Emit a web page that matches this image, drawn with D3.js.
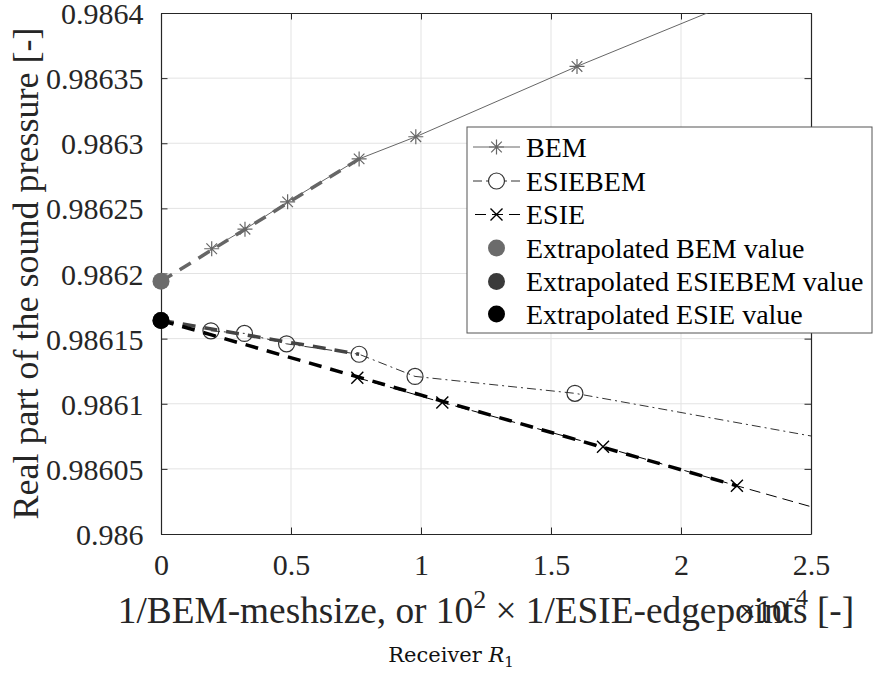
<!DOCTYPE html>
<html>
<head>
<meta charset="utf-8">
<script src="https://cdn.jsdelivr.net/npm/d3@7"></script>
<style>
  html, body { margin: 0; padding: 0; background: #fff; }
  svg { display: block; }
</style>
</head>
<body>
<svg id="chart" width="878" height="674"></svg>
<script>
// ---------------- data ----------------
const xTicks = [0, 0.5, 1, 1.5, 2, 2.5];
const xTickLabels = ["0", "0.5", "1", "1.5", "2", "2.5"];
const yTicks = [0.986, 0.98605, 0.9861, 0.98615, 0.9862, 0.98625, 0.9863, 0.98635, 0.9864];
const yTickLabels = ["0.986", "0.98605", "0.9861", "0.98615", "0.9862", "0.98625", "0.9863", "0.98635", "0.9864"];

const bemX = [0.195, 0.323, 0.487, 0.762, 0.98, 1.6, 3.2];
const bemY = [0.986219, 0.986234, 0.986255, 0.986288, 0.986305, 0.986359, 0.98649];

const esiebemX = [0.192, 0.321, 0.483, 0.762, 0.977, 1.592, 3.2];
const esiebemY = [0.986156, 0.986154, 0.986146, 0.986138, 0.986121, 0.986108, 0.986050];

const esieX = [0.755, 1.082, 1.70, 2.215, 3.3];
const esieY = [0.986120, 0.986101, 0.986067, 0.986037, 0.985976];

const bemFitX = [0, 0.762];
const bemFitY = [0.986194, 0.986288];
const esiebemFitX = [0, 0.762];
const esiebemFitY = [0.986164, 0.986138];
const esieFitX = [0, 2.215];
const esieFitY = [0.986164, 0.986037];

const extrapLabels = ["Extrapolated BEM value", "Extrapolated ESIEBEM value", "Extrapolated ESIE value"];
const extrapY = [0.986194, 0.986164, 0.986164];
const seriesLabels = ["BEM", "ESIEBEM", "ESIE"];

// ---------------- layout ----------------
const SERIF = '"Liberation Serif", "Times New Roman", Times, serif';
const L = 161, R = 811, T = 13, B = 534;
const svg = d3.select("#chart");
const x = d3.scaleLinear().domain([0, 2.5]).range([L, R]);
const y = d3.scaleLinear().domain([0.986, 0.9864]).range([B, T]);

const axisColor = "#262626";
const gridColor = "#e3e3e3";
const cBEM = "#666666", cESIEBEM = "#333333", cESIE = "#000000";

svg.append("rect").attr("width", 878).attr("height", 674).attr("fill", "#fff");

// grid
const grid = svg.append("g");
grid.selectAll("line.gx").data(xTicks.slice(1, -1)).join("line")
  .attr("x1", d => x(d)).attr("x2", d => x(d)).attr("y1", T).attr("y2", B)
  .attr("stroke", gridColor).attr("stroke-width", 1);
grid.selectAll("line.gy").data(yTicks.slice(1, -1)).join("line")
  .attr("y1", d => y(d)).attr("y2", d => y(d)).attr("x1", L).attr("x2", R)
  .attr("stroke", gridColor).attr("stroke-width", 1);

// axes via d3 axes (ticks inside)
const fmtX = (d) => xTickLabels[xTicks.indexOf(d)];
const fmtY = (d) => yTickLabels[yTicks.indexOf(d)];
const tickLen = 6.5;

const gB = svg.append("g").attr("transform", `translate(0,${B})`)
  .call(d3.axisBottom(x).tickValues(xTicks).tickFormat(fmtX).tickSizeInner(-tickLen).tickSizeOuter(0).tickPadding(tickLen + 13));
const gT = svg.append("g").attr("transform", `translate(0,${T})`)
  .call(d3.axisTop(x).tickValues(xTicks).tickFormat("").tickSizeInner(-tickLen).tickSizeOuter(0));
const gL = svg.append("g").attr("transform", `translate(${L},0)`)
  .call(d3.axisLeft(y).tickValues(yTicks).tickFormat(fmtY).tickSizeInner(-tickLen).tickSizeOuter(0).tickPadding(tickLen + 11));
const gR = svg.append("g").attr("transform", `translate(${R},0)`)
  .call(d3.axisRight(y).tickValues(yTicks).tickFormat("").tickSizeInner(-tickLen).tickSizeOuter(0));

[gB, gT, gL, gR].forEach(g => {
  g.attr("font-family", SERIF).attr("font-size", 30);
  g.select(".domain").attr("stroke", axisColor).attr("stroke-width", 1.2);
  g.selectAll(".tick line").attr("stroke", axisColor).attr("stroke-width", 1);
  g.selectAll(".tick text").attr("fill", axisColor)
    .attr("font-family", SERIF).attr("font-size", 30);
});
gL.selectAll(".tick text").attr("dy", "0.35em");

// clip
svg.append("clipPath").attr("id", "clip").append("rect")
  .attr("x", L).attr("y", T).attr("width", R - L).attr("height", B - T);
const plot = svg.append("g").attr("clip-path", "url(#clip)");

const line = d3.line().x(d => x(d[0])).y(d => y(d[1]));
const zip = (a, b) => a.map((v, i) => [v, b[i]]);

// series lines
plot.append("path").datum(zip(bemX, bemY)).attr("d", line)
  .attr("fill", "none").attr("stroke", cBEM).attr("stroke-width", 1);
plot.append("path").datum(zip(esiebemX, esiebemY)).attr("d", line)
  .attr("fill", "none").attr("stroke", cESIEBEM).attr("stroke-width", 1)
  .attr("stroke-dasharray", "9,4,2,4");
plot.append("path").datum(zip(esieX, esieY)).attr("d", line)
  .attr("fill", "none").attr("stroke", cESIE).attr("stroke-width", 1)
  .attr("stroke-dasharray", "11,6");

// marker shapes
function asterisk(g, cx, cy, r, color, sw) {
  const p = d3.path();
  p.moveTo(cx - r, cy); p.lineTo(cx + r, cy);
  p.moveTo(cx, cy - r); p.lineTo(cx, cy + r);
  const k = r * 0.7071;
  p.moveTo(cx - k, cy - k); p.lineTo(cx + k, cy + k);
  p.moveTo(cx - k, cy + k); p.lineTo(cx + k, cy - k);
  g.append("path").attr("d", p.toString()).attr("stroke", color).attr("stroke-width", sw).attr("fill", "none");
}
function cross(g, cx, cy, r, color, sw) {
  const p = d3.path();
  p.moveTo(cx - r, cy - r); p.lineTo(cx + r, cy + r);
  p.moveTo(cx - r, cy + r); p.lineTo(cx + r, cy - r);
  g.append("path").attr("d", p.toString()).attr("stroke", color).attr("stroke-width", sw).attr("fill", "none");
}
function circle(g, cx, cy, r, color, sw) {
  g.append("circle").attr("cx", cx).attr("cy", cy).attr("r", r)
    .attr("fill", "none").attr("stroke", color).attr("stroke-width", sw);
}

bemX.forEach((v, i) => asterisk(plot, x(v), y(bemY[i]), 7.5, cBEM, 1.2));
esiebemX.forEach((v, i) => circle(plot, x(v), y(esiebemY[i]), 8, cESIEBEM, 1.2));
esieX.forEach((v, i) => cross(plot, x(v), y(esieY[i]), 6, cESIE, 1.4));

// extrapolation lines (thick dashed)
plot.append("path").datum(zip(bemFitX, bemFitY)).attr("d", line)
  .attr("fill", "none").attr("stroke", cBEM).attr("stroke-width", 3.5)
  .attr("stroke-dasharray", "13,9");
plot.append("path").datum(zip(esiebemFitX, esiebemFitY)).attr("d", line)
  .attr("fill", "none").attr("stroke", "#444444").attr("stroke-width", 3.5)
  .attr("stroke-dasharray", "13,9");
plot.append("path").datum(zip(esieFitX, esieFitY)).attr("d", line)
  .attr("fill", "none").attr("stroke", cESIE).attr("stroke-width", 3.5)
  .attr("stroke-dasharray", "13,9");

// extrapolated dots (not clipped)
const dotColors = ["#6b6b6b", "#3a3a3a", "#000000"];
extrapY.forEach((v, i) => {
  svg.append("circle").attr("cx", x(0)).attr("cy", y(v)).attr("r", 8.5).attr("fill", dotColors[i]);
});

// axis labels
svg.append("text").attr("transform", `translate(38,${(T + B) / 2}) rotate(-90)`)
  .attr("text-anchor", "middle").attr("font-family", SERIF).attr("font-size", 36).attr("fill", axisColor)
  .text("Real part of the sound pressure [-]");

const xl = svg.append("text").attr("x", 486).attr("y", 623)
  .attr("text-anchor", "middle").attr("font-family", SERIF).attr("font-size", 37.3).attr("fill", axisColor);
xl.append("tspan").text("1/BEM-meshsize, or 10");
xl.append("tspan").attr("dy", -15).attr("font-size", 26).text("2");
xl.append("tspan").attr("dy", 15).text(" \u00d7 1/ESIE-edgepoints [-]");

// exponent label
const ex = svg.append("text").attr("x", 808).attr("y", 622).attr("text-anchor", "end")
  .attr("font-family", SERIF).attr("font-size", 32).attr("fill", axisColor);
ex.append("tspan").text("\u00d710");
ex.append("tspan").attr("dy", -17).attr("font-size", 24).text("-4");

// caption
const cap = svg.append("text").attr("x", 451).attr("y", 662).attr("text-anchor", "middle")
  .attr("font-family", '"DejaVu Serif", serif').attr("font-size", 21).attr("fill", "#111");
cap.append("tspan").text("Receiver ");
cap.append("tspan").attr("font-style", "italic").text("R");
cap.append("tspan").attr("dy", 5).attr("font-size", 15).text("1");

// legend
const lg = svg.append("g");
lg.append("rect").attr("x", 467).attr("y", 127).attr("width", 405).attr("height", 206)
  .attr("fill", "#fff").attr("stroke", "#555").attr("stroke-width", 1);
const rowY = [147, 181, 214.5, 248, 281.5, 314];
const allLabels = seriesLabels.concat(extrapLabels);
const lx1 = 473, lx2 = 520, lmx = 496.5;
// BEM
lg.append("line").attr("x1", lx1).attr("x2", lx2).attr("y1", rowY[0]).attr("y2", rowY[0]).attr("stroke", cBEM).attr("stroke-width", 1);
asterisk(lg, lmx, rowY[0], 7.5, cBEM, 1.2);
// ESIEBEM
lg.append("line").attr("x1", lx1).attr("x2", lx2).attr("y1", rowY[1]).attr("y2", rowY[1]).attr("stroke", cESIEBEM).attr("stroke-width", 1).attr("stroke-dasharray", "9,4,2,4");
lg.append("circle").attr("cx", lmx).attr("cy", rowY[1]).attr("r", 8).attr("fill", "#fff").attr("stroke", "none");
circle(lg, lmx, rowY[1], 8, cESIEBEM, 1.2);
// ESIE
lg.append("line").attr("x1", lx1).attr("x2", lx2).attr("y1", rowY[2]).attr("y2", rowY[2]).attr("stroke", cESIE).attr("stroke-width", 1).attr("stroke-dasharray", "11,6").attr("stroke-dashoffset", -2);
cross(lg, lmx, rowY[2], 6, cESIE, 1.4);
// dots
dotColors.forEach((c, i) => lg.append("circle").attr("cx", lmx).attr("cy", rowY[3 + i]).attr("r", 8.5).attr("fill", c));
lg.selectAll("text.lab").data(allLabels).join("text")
  .attr("x", 526).attr("y", (d, i) => rowY[i]).attr("dy", "0.35em")
  .attr("font-family", SERIF).attr("font-size", 28).attr("fill", "#000").text(d => d);
</script>
</body>
</html>
